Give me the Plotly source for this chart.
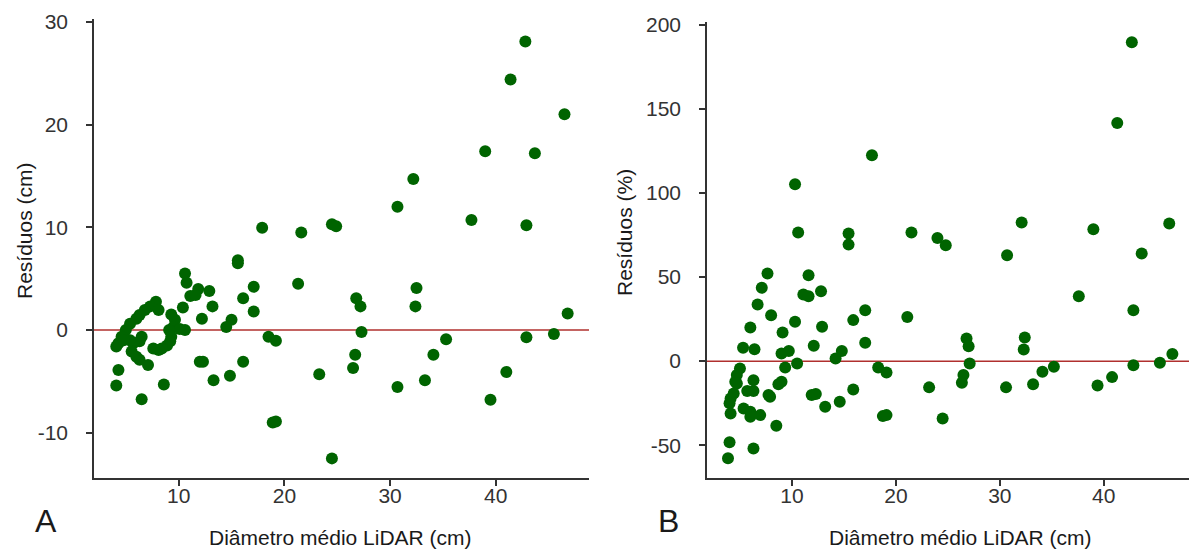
import plotly.graph_objects as go

# Panel A: residuals in cm
diam_a = [17.9, 21.6, 24.5, 24.9, 42.8, 41.4, 46.5, 39.0, 43.7, 32.2, 30.7, 37.7, 42.9,
          21.3, 26.8, 27.2, 27.3, 26.7, 26.5, 23.3, 24.5, 32.5, 32.4, 30.7, 33.3, 34.1,
          35.3, 39.5, 41.0, 42.9, 45.5, 46.8, 15.6, 15.6, 10.6, 10.75, 17.1, 11.85, 11.1,
          11.6, 12.9, 16.1, 10.4, 13.2, 17.1, 12.2, 15.0, 14.5, 7.85, 7.3, 6.8, 6.3, 6.0,
          5.4, 5.0, 8.1, 9.3, 9.65, 9.5, 10.6, 10.1, 9.1, 9.3, 9.2, 8.9, 8.4, 8.1, 7.6,
          6.5, 6.3, 5.7, 5.4, 4.6, 4.3, 4.1, 4.8, 5.55, 6.0, 6.3, 7.1, 4.3, 4.1, 6.5, 8.6,
          12.0, 12.3, 13.3, 14.85, 16.1, 18.5, 19.2, 18.9, 19.2]
res_cm = [9.96, 9.5, 10.3, 10.1, 28.1, 24.4, 21.0, 17.4, 17.2, 14.7, 12.0, 10.7, 10.2,
          4.5, 3.1, 2.3, -0.2, -2.4, -3.7, -4.3, -12.5, 4.1, 2.3, -5.55, -4.9, -2.4,
          -0.9, -6.8, -4.1, -0.7, -0.4, 1.6, 6.8, 6.5, 5.5, 4.6, 4.2, 4.0, 3.3,
          3.4, 3.8, 3.1, 2.2, 2.3, 1.8, 1.1, 1.0, 0.3, 2.76, 2.3, 1.95, 1.46, 1.1,
          0.6, 0.0, 1.95, 1.5, 1.0, 0.3, 0.0, 0.1, 0.0, -0.65, -1.1, -1.5, -1.8, -1.95, -1.8,
          -0.65, -1.1, -1.3, -1.0, -0.65, -1.3, -1.6, -1.0, -2.1, -2.6, -2.9, -3.4, -3.9, -5.4, -6.75, -5.3,
          -3.1, -3.1, -4.9, -4.45, -3.1, -0.65, -1.05, -9.0, -8.9]

# Panel B: residuals in %
diam_b = [10.3, 17.7, 10.6, 15.45, 15.45, 21.5, 24.0, 42.7, 41.3, 32.1, 39.0, 24.8, 30.7,
          43.65, 46.3, 37.6, 42.85, 21.1, 26.8, 27.0, 32.4, 32.3, 27.1, 26.5, 26.35, 23.2,
          24.5, 30.6, 33.2, 34.1, 35.2, 39.4, 40.8, 42.85, 45.4, 46.6, 7.65, 11.6, 7.1,
          11.1, 11.6, 12.8, 6.7, 8.0, 6.0, 9.1, 10.3, 12.9, 17.05, 15.9, 17.05, 5.3, 6.4,
          12.1, 9.0, 9.7, 10.5, 14.2, 14.8, 9.35, 5.0, 4.7, 4.55, 4.7, 6.3, 9.0, 8.7, 5.7,
          6.3, 4.4, 4.1, 4.0, 4.1, 7.75, 7.9, 5.35, 6.0, 6.0, 6.95, 8.5, 4.0, 6.3, 3.85,
          11.9, 12.3, 13.2, 14.6, 15.9, 18.3, 19.1, 18.75, 19.1]
res_pct = [105.2, 122.4, 76.5, 75.9, 69.3, 76.5, 73.3, 189.7, 141.6, 82.4, 78.4, 68.9, 63.0,
           64.0, 81.8, 38.6, 30.3, 26.3, 13.5, 8.9, 14.1, 6.95, -1.4, -8.3, -12.9, -15.6,
           -34.1, -15.6, -13.7, -6.3, -3.4, -14.5, -9.5, -2.4, -1.0, 4.2, 52.1, 51.1, 43.6,
           39.6, 38.6, 41.6, 33.7, 27.3, 20.0, 17.0, 23.4, 20.4, 30.3, 24.4, 10.9, 7.9, 7.1,
           9.1, 4.6, 6.1, -1.4, 1.6, 6.1, -3.8, -4.4, -8.3, -12.3, -13.3, -11.3, -12.3, -13.7, -17.8,
           -17.8, -19.2, -22.2, -25.1, -31.1, -20.2, -21.2, -28.1, -30.1, -33.1, -32.1, -38.4, -48.3, -51.9, -57.8,
           -20.2, -19.6, -27.1, -24.2, -16.8, -3.8, -6.7, -32.7, -32.1]

xticks = [10, 20, 30, 40]
yticks_a = [-10, 0, 10, 20, 30]
yticks_b = [-50, 0, 50, 100, 150, 200]
yticktext_a = ["-10", "0", "10", "20", "30"]
yticktext_b = ["-50", "0", "50", "100", "150", "200"]

OFF = 8  # page body margin in the browser
W, H = 1197 - OFF, 553 - OFF
FONT = "Liberation Sans, Arial, sans-serif"
GREEN = "#006400"
RED = "#B0302E"
AX = "#333333"

fig = go.Figure()
fig.add_trace(go.Scatter(x=diam_a, y=res_cm, mode="markers", xaxis="x", yaxis="y",
                         marker=dict(color=GREEN, size=12, line=dict(width=0)), showlegend=False))
fig.add_trace(go.Scatter(x=diam_b, y=res_pct, mode="markers", xaxis="x2", yaxis="y2",
                         marker=dict(color=GREEN, size=12, line=dict(width=0)), showlegend=False))

def px(v):
    return (v - OFF) / W

def py(v):
    return 1 - (v - OFF) / H

axis_common = dict(showgrid=False, zeroline=False, showline=True, linecolor=AX, linewidth=1.5,
                   ticks="outside", ticklen=6, tickwidth=1.5, tickcolor=AX, automargin=False,
                   tickfont=dict(family=FONT, size=21, color="#333333"))

title_font = dict(family=FONT, size=21, color="#1a1a1a")

fig.update_layout(
    width=W, height=H,
    margin=dict(l=0, r=0, t=0, b=0, autoexpand=False),
    paper_bgcolor="white", plot_bgcolor="white",
    font=dict(family=FONT),
    xaxis=dict(domain=[px(94), px(589)], range=[1.99, 48.82], anchor="y",
               tickvals=xticks, ticklabelstandoff=-8, **axis_common),
    yaxis=dict(domain=[py(478), py(19)], range=[-14.41, 30.28], anchor="x",
               tickvals=yticks_a, ticktext=yticktext_a, ticklabelstandoff=14, **axis_common),
    xaxis2=dict(domain=[px(707), 1.0], range=[1.83, 48.97], anchor="y2",
                tickvals=xticks, ticklabelstandoff=-8, **axis_common),
    yaxis2=dict(domain=[py(478), py(21.5)], range=[-69.5, 202.0], anchor="x2",
                tickvals=yticks_b, ticktext=yticktext_b, ticklabelstandoff=14, **axis_common),
    shapes=[
        dict(type="line", xref="x domain", yref="y", x0=0, x1=1, y0=0, y1=0,
             line=dict(color=RED, width=1.5), layer="below"),
        dict(type="line", xref="x2 domain", yref="y2", x0=0, x1=1, y0=0, y1=0,
             line=dict(color=RED, width=1.5), layer="below"),
    ],
    annotations=[
        dict(text="Resíduos (cm)", xref="paper", yref="paper", x=px(24), y=py(231),
             xanchor="center", yanchor="middle", textangle=-90, showarrow=False, font=title_font),
        dict(text="Resíduos (%)", xref="paper", yref="paper", x=px(625), y=py(233),
             xanchor="center", yanchor="middle", textangle=-90, showarrow=False, font=title_font),
        dict(text="Diâmetro médio LiDAR (cm)", xref="paper", yref="paper", x=px(340), y=py(537),
             xanchor="center", yanchor="middle", showarrow=False, font=title_font),
        dict(text="Diâmetro médio LiDAR (cm)", xref="paper", yref="paper", x=px(960), y=py(537),
             xanchor="center", yanchor="middle", showarrow=False, font=title_font),
        dict(text="A", xref="paper", yref="paper", x=px(46), y=py(521),
             xanchor="center", yanchor="middle", showarrow=False,
             font=dict(family=FONT, size=32, color="#1a1a1a")),
        dict(text="B", xref="paper", yref="paper", x=px(668), y=py(521),
             xanchor="center", yanchor="middle", showarrow=False,
             font=dict(family=FONT, size=32, color="#1a1a1a")),
    ],
)

fig.write_html("out.html")
